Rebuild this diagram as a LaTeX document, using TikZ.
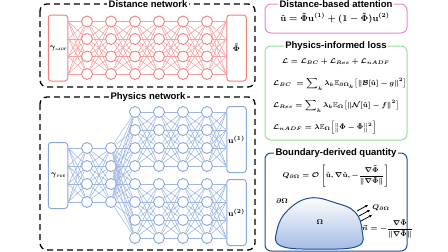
\documentclass[tikz,border=0pt]{standalone}
\usepackage{amsmath,amssymb,bm}
\usepackage{fontspec}
\setsansfont{Liberation Sans}
\usetikzlibrary{arrows.meta,calc}
\definecolor{dred}{HTML}{F47F7F}
\definecolor{lred}{HTML}{F6A0A0}
\definecolor{dblu}{HTML}{8AA8DC}
\definecolor{lblu}{HTML}{9DB6E2}
\definecolor{pinkb}{HTML}{EE86CC}
\definecolor{greenb}{HTML}{92E492}
\definecolor{navyb}{HTML}{1F4C96}
\definecolor{blobfill}{HTML}{A3BBE4}
\newcommand{\tinysub}[1]{\raisebox{-1.2pt}{\fontsize{3.5}{4}\selectfont\itshape\bfseries #1}}
\begin{document}
\begin{tikzpicture}[x=1pt,y=-1pt,
  neur/.style={circle,draw,line width=0.9pt,fill=white,minimum size=11pt,inner sep=0pt},
  rneur/.style={neur,draw=dred},
  bneur/.style={neur,draw=dblu},
  iobox/.style={rectangle,rounded corners=3pt,line width=1pt,fill=white,minimum width=19.5pt,minimum height=66pt,inner sep=0pt,font=\boldmath\fontsize{8.5}{10}\selectfont},
  riobox/.style={iobox,draw=dred},
  biobox/.style={iobox,draw=dblu},
  rlink/.style={draw=lred,line width=0.55pt},
  blink/.style={draw=lblu,line width=0.55pt},
  netframe/.style={draw=black,line width=1.3pt,dash pattern=on 6pt off 4pt,rounded corners=7pt},
  panel/.style={line width=1pt,rounded corners=6pt},
  ttl/.style={font=\sffamily\bfseries\fontsize{9.5}{11}\selectfont,fill=white,inner sep=1.5pt},
  eq/.style={font=\boldmath\fontsize{8.6}{10}\selectfont,inner sep=0pt},
  seq/.style={font=\boldmath\fontsize{7.3}{9}\selectfont,inner sep=0pt}
]
\useasboundingbox (0,0) rectangle (448,252);
% frames
\draw[netframe] (40,4) rectangle (255,87);
\draw[netframe] (40,97) rectangle (255,250);
\node[ttl] (tdist) at (148,4) {Distance network};
\node[ttl] (tphys) at (148,97) {Physics network};

% ---------------- Distance network
\node[riobox] (gA) at (58,48) {$\gamma$\tinysub{nADF}};
\node[riobox] (phiT) at (236.5,48) {$\tilde{\Phi}$};
\foreach \c in {1,...,6}{
  \foreach \r in {1,...,4}{
    \node[rneur] (d-\c-\r) at ({87+24*(\c-1)},{21.5+17.5*(\r-1)}) {};
  }
}
\foreach \r in {1,...,4}{
  \coordinate (gA-\r) at (gA.east |- d-1-\r);
  \coordinate (phiT-\r) at (phiT.west |- d-6-\r);
}
\foreach \a in {1,...,4}{
  \foreach \b in {1,...,4}{
    \draw[rlink] (gA-\a) -- (d-1-\b);
    \draw[rlink] (d-6-\a) -- (phiT-\b);
    \foreach \c [evaluate=\c as \n using int(\c+1)] in {1,...,5}{
      \draw[rlink] (d-\c-\a) -- (d-\n-\b);
    }
  }
}

% ---------------- Physics network
\node[biobox] (gP) at (58,175.5) {$\gamma$\tinysub{PDE}};
\node[biobox] (u1) at (236.5,139.5) {$\mathbf{u}^{(1)}$};
\node[biobox] (u2) at (236.5,212.5) {$\mathbf{u}^{(2)}$};
\foreach \c in {1,2}{
  \foreach \r in {1,...,4}{
    \node[bneur] (p-\c-\r) at ({87+24*(\c-1)},{148+18*(\r-1)}) {};
  }
}
\foreach \c in {3,...,6}{
  \foreach \r in {1,...,8}{
    \node[bneur] (p-\c-\r) at ({87+24*(\c-1)},{112+18*(\r-1)}) {};
  }
}
\foreach \r in {1,...,4}{
  \coordinate (gP-\r) at (gP.east |- p-1-\r);
}
\foreach \r in {1,...,8}{
  \coordinate (ub-\r) at (u1.west |- p-6-\r);
}
\foreach \a in {1,...,4}{
  \foreach \b in {1,...,4}{
    \draw[blink] (gP-\a) -- (p-1-\b);
    \draw[blink] (p-1-\a) -- (p-2-\b);
  }
  \foreach \b in {1,...,8}{
    \draw[blink] (p-2-\a) -- (p-3-\b);
  }
}
\foreach \a in {1,...,4}{
  \foreach \b in {1,...,4}{
    \pgfmathtruncatemacro{\la}{\a+4}
    \pgfmathtruncatemacro{\lb}{\b+4}
    \draw[blink] (p-6-\a) -- (ub-\b);
    \draw[blink] (p-6-\la) -- (ub-\lb);
    \foreach \c [evaluate=\c as \n using int(\c+1)] in {3,4,5}{
      \draw[blink] (p-\c-\a) -- (p-\n-\b);
      \draw[blink] (p-\c-\la) -- (p-\n-\lb);
    }
  }
}

% ---------------- Right panels
\draw[panel,draw=pinkb] (265,4) rectangle (407,33);
\node[ttl] (tatt) at (336,4) {Distance-based attention};
\node[eq] (eatt) at (335,18.5) {$\hat{\mathbf{u}} = \tilde{\Phi}\mathbf{u}^{(1)} + (1-\tilde{\Phi})\mathbf{u}^{(2)}$};

\draw[panel,draw=greenb] (265,46) rectangle (407,140);
\node[ttl] (tloss) at (336,46) {Physics-informed loss};
\node[seq] (eL) at (336,62) {$\mathcal{L} = \mathcal{L}_{BC} + \mathcal{L}_{Res} + \mathcal{L}_{nADF}$};
\node[seq,anchor=west] (eBC) at (273,84) {$\mathcal{L}_{BC}\; = \displaystyle\sum\nolimits_{k}\lambda_k\mathbb{E}_{\partial\Omega_k}\big[\|\mathcal{B}[\hat{\mathbf{u}}]-g\|^2\big]$};
\node[seq,anchor=west] (eRes) at (273,106) {$\mathcal{L}_{Res} = \displaystyle\sum\nolimits_{k}\lambda_k\mathbb{E}_{\Omega}\big[\|\mathcal{N}[\hat{\mathbf{u}}]-f\|^2\big]$};
\node[seq,anchor=west] (eADF) at (273,128) {$\mathcal{L}_{nADF} = \lambda\mathbb{E}_{\Omega}\Big[\big\|\hat{\Phi}-\tilde{\Phi}\big\|^2\Big]$};

\draw[panel,draw=navyb] (265,153) rectangle (407,251);
\node[ttl] (tbnd) at (336,153) {Boundary-derived quantity};
\node[seq] (eQ) at (336,176) {$Q_{\partial\Omega} = \mathcal{O}\left[\hat{\mathbf{u}},\nabla\hat{\mathbf{u}},-\dfrac{\nabla\tilde{\Phi}}{\|\nabla\tilde{\Phi}\|}\right]$};

% domain
\draw[draw=navyb,line width=1pt,top color=white,bottom color=blobfill]
  plot[smooth cycle,tension=0.7] coordinates {(281,246) (277,230) (288,210) (310,198) (336,203) (355,212) (362,230) (358,246) (320,249)};
\node[seq] (lbd) at (282,201) {$\partial\Omega$};
\node[seq] (lom) at (320,222) {$\Omega$};
\draw[-{Stealth[length=3pt,width=2.6pt]},line width=0.8pt] (357,211) -- (368,205);
\draw[-{Stealth[length=3pt,width=2.6pt]},line width=0.8pt] (359,216) -- (370,210);
\draw[-{Stealth[length=3pt,width=2.6pt]},line width=0.8pt] (361,221) -- (372,215);
\node[seq] (lQ) at (381,208) {$Q_{\partial\Omega}$};
\node[seq] (ln) at (387.5,229) {$\vec{n} = -\dfrac{\nabla\tilde{\Phi}}{\|\nabla\tilde{\Phi}\|}$};
\end{tikzpicture}
\end{document}
